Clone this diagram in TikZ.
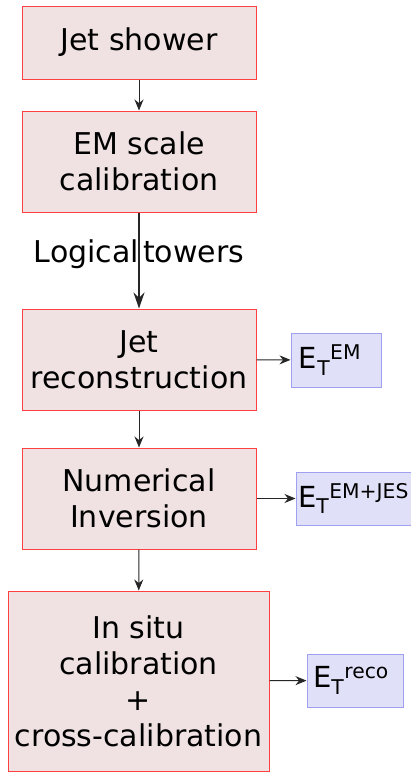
\documentclass[tikz,border=0pt]{standalone}
\usepackage{fontspec}
\setmainfont{DejaVu Sans}
\usepackage{xcolor}
\usetikzlibrary{arrows.meta}
\definecolor{stepFill}{RGB}{240,226,226}
\definecolor{stepLine}{RGB}{255,64,64}
\definecolor{outFill}{RGB}{224,224,248}
\definecolor{outLine}{RGB}{160,160,240}

\begin{document}
\begin{tikzpicture}[x=1pt, y=-1pt,
    stepbox/.style={draw=stepLine, fill=stepFill, line width=1pt, align=center,
        font=\fontsize{30}{36}\selectfont, inner sep=0pt},
    outbox/.style={draw=outLine, fill=outFill, line width=1pt, inner sep=0pt,
        font=\fontsize{29}{34}\selectfont},
    flow/.style={-{Stealth[length=11pt, width=9pt]}, line width=1pt, black!85}]
    \useasboundingbox (0,0) rectangle (411,772);
    % calibration chain
    \node[stepbox, minimum width=234pt, minimum height=73pt] (shower) at (139,42.5) {Jet shower};
    \node[stepbox, minimum width=234pt, minimum height=101pt] (emscale) at (139,161.5) {EM scale\\calibration};
    \node[stepbox, minimum width=234pt, minimum height=101pt] (reco) at (139,359.5) {Jet\\reconstruction};
    \node[stepbox, minimum width=234pt, minimum height=101pt] (numinv) at (139,498.5) {Numerical\\Inversion};
    \node[stepbox, minimum width=261pt, minimum height=180pt] (insitu) at (138.5,681) {In situ\\calibration\\+\\cross-calibration};
    % outputs
    \node[outbox, minimum width=90pt, minimum height=54pt] (etem) at (336,360)
        {\hspace{-12pt}E\textsubscript{T}\textsuperscript{EM}};
    \node[outbox, minimum width=115pt, minimum height=53pt] (etjes) at (353.5,498.5)
        {E\textsubscript{T}\textsuperscript{EM+JES}};
    \node[outbox, minimum width=96pt, minimum height=53pt] (etreco) at (355,680.5)
        {\hspace{-8pt}E\textsubscript{T}\textsuperscript{reco}};
    % arrows
    \draw[flow] (shower) -- (emscale);
    \draw[flow, line width=2pt, -{Stealth[length=16pt, width=11pt]}] (emscale) -- (reco)
        node[pos=0.43, black, font=\fontsize{30}{34}\selectfont] (towers) {Logical\hspace{4pt}towers};
    \draw[flow] (reco) -- (numinv);
    \draw[flow] (numinv) -- (insitu);
    \draw[flow] (reco) -- (etem);
    \draw[flow] (numinv) -- (etjes);
    \draw[flow] (insitu) -- (etreco);
\end{tikzpicture}
\end{document}
